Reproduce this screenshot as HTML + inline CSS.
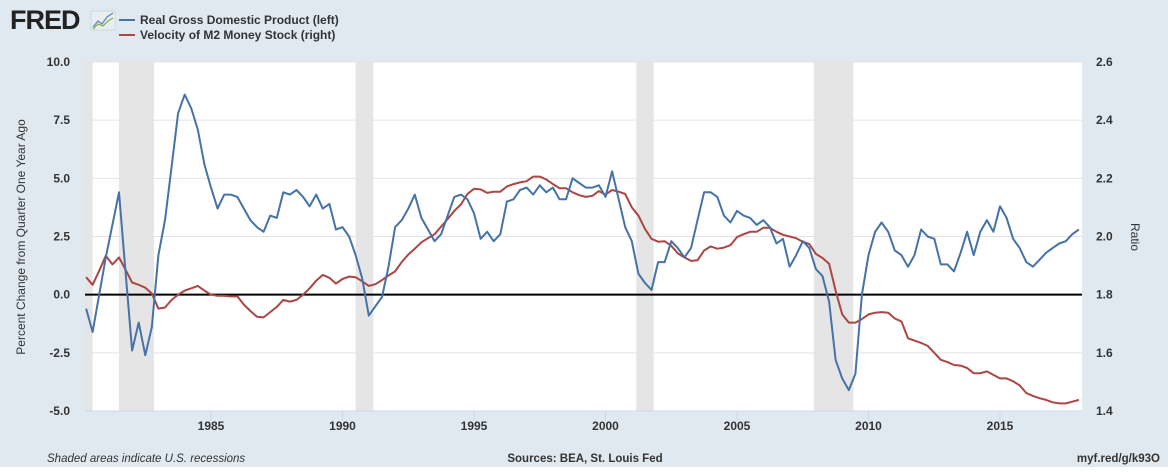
<!DOCTYPE html>
<html><head><meta charset="utf-8">
<style>
html,body{margin:0;padding:0;background:#fff;}
body{width:1168px;height:470px;overflow:hidden;font-family:"Liberation Sans",sans-serif;}
#wrap{position:absolute;left:0;top:0;width:1168px;height:467px;background:#e1e9f0;}
</style></head>
<body>
<div id="wrap">
<svg id="chart" width="1168" height="467" xmlns="http://www.w3.org/2000/svg">
  <g>
    <text x="10" y="29" font-family="Liberation Sans" font-weight="bold" font-size="27" fill="#222" letter-spacing="-1">FRED</text>
    <rect x="91" y="11" width="24" height="19" fill="#e8eef2" stroke="#bcc" stroke-width="0.6"/>
    <polyline points="93,27 98,21 102,24 107,17 113,13" fill="none" stroke="#5b8bbf" stroke-width="1.3"/>
    <polyline points="93,29 98,24 103,26 108,21 113,18" fill="none" stroke="#8ab04a" stroke-width="1.3"/>
  </g>
  <g>
    <line x1="119" y1="20" x2="135" y2="20" stroke="#4572a7" stroke-width="2"/>
    <text x="140" y="24" font-size="12" fill="#333" font-weight="bold">Real Gross Domestic Product (left)</text>
    <line x1="119" y1="35" x2="135" y2="35" stroke="#aa4643" stroke-width="2"/>
    <text x="140" y="39" font-size="12" fill="#333" font-weight="bold">Velocity of M2 Money Stock (right)</text>
  </g>
  <rect x="85" y="62" width="997" height="349" fill="#fff"/>
  <g id="rec"></g>
  <g id="grid"></g>
  <g id="ticks"></g>
  <g id="series"></g>
  <text transform="translate(25,237) rotate(-90)" text-anchor="middle" font-size="12" fill="#333">Percent Change from Quarter One Year Ago</text>
  <text transform="translate(1131,237) rotate(90)" text-anchor="middle" font-size="12" fill="#333">Ratio</text>
  <text x="47" y="462" font-size="11.5" font-style="italic" fill="#333">Shaded areas indicate U.S. recessions</text>
  <text x="585" y="462" text-anchor="middle" font-size="11.5" fill="#333" font-weight="bold">Sources: BEA, St. Louis Fed</text>
  <text x="1160" y="462" text-anchor="end" font-size="11.5" fill="#333" font-weight="bold">myf.red/g/k93O</text>
</svg>
</div>
<script>
const startYear = 1980.25;
const gdpValues = [-0.6,-1.6,0.0,1.6,3.0,4.4,1.0,-2.4,-1.2,-2.6,-1.4,1.7,3.2,5.5,7.8,8.6,8.0,7.1,5.6,4.6,3.7,4.3,4.3,4.2,3.7,3.2,2.9,2.7,3.4,3.3,4.4,4.3,4.5,4.2,3.8,4.3,3.7,3.9,2.8,2.9,2.5,1.7,0.7,-0.9,-0.5,-0.1,1.2,2.9,3.2,3.7,4.3,3.3,2.8,2.3,2.6,3.4,4.2,4.3,4.1,3.5,2.4,2.7,2.3,2.6,4.0,4.1,4.5,4.6,4.3,4.7,4.4,4.6,4.1,4.1,5.0,4.8,4.6,4.6,4.7,4.2,5.3,4.1,2.9,2.3,0.9,0.5,0.2,1.4,1.4,2.3,2.0,1.6,2.0,3.2,4.4,4.4,4.2,3.4,3.1,3.6,3.4,3.3,3.0,3.2,2.9,2.2,2.4,1.2,1.7,2.3,2.0,1.1,0.8,-0.3,-2.8,-3.6,-4.1,-3.4,0.0,1.7,2.7,3.1,2.7,1.9,1.7,1.2,1.7,2.8,2.5,2.4,1.3,1.3,1.0,1.8,2.7,1.7,2.7,3.2,2.7,3.8,3.3,2.4,2.0,1.4,1.2,1.5,1.8,2.0,2.2,2.3,2.6,2.8];
const velocityValues = [1.860,1.834,1.882,1.934,1.904,1.928,1.886,1.842,1.834,1.824,1.804,1.752,1.756,1.782,1.800,1.814,1.822,1.830,1.814,1.800,1.796,1.796,1.794,1.794,1.766,1.744,1.724,1.722,1.740,1.758,1.782,1.776,1.782,1.800,1.822,1.848,1.868,1.858,1.838,1.854,1.862,1.860,1.846,1.830,1.836,1.850,1.866,1.880,1.912,1.938,1.958,1.980,1.994,2.008,2.034,2.060,2.088,2.110,2.146,2.164,2.162,2.150,2.154,2.154,2.172,2.180,2.186,2.190,2.206,2.206,2.196,2.180,2.166,2.166,2.152,2.142,2.136,2.140,2.156,2.144,2.160,2.154,2.146,2.100,2.072,2.026,1.992,1.982,1.984,1.968,1.942,1.928,1.916,1.918,1.952,1.966,1.958,1.962,1.970,1.998,2.008,2.016,2.016,2.030,2.030,2.016,2.006,2.000,1.994,1.982,1.974,1.940,1.926,1.906,1.814,1.732,1.704,1.704,1.716,1.732,1.738,1.740,1.738,1.718,1.708,1.650,1.642,1.634,1.624,1.600,1.576,1.568,1.558,1.556,1.548,1.530,1.530,1.536,1.524,1.512,1.512,1.502,1.488,1.462,1.452,1.444,1.438,1.430,1.426,1.426,1.432,1.438];
const recessionStarts = [1980.0,1981.5,1990.5,2001.17,2007.92];
const recessionEnds = [1980.5,1982.83,1991.17,2001.83,2009.42];
const leftTicks = [-5.0,-2.5,0.0,2.5,5.0,7.5,10.0];
const rightTicks = [1.4,1.6,1.8,2.0,2.2,2.4,2.6];
const yearTicks = [1985,1990,1995,2000,2005,2010,2015];

const NS = "http://www.w3.org/2000/svg";
const PL = 85, PR = 1082, PT = 62, PB = 411;
function xs(yr){ return 211 + (yr - 1985) * 26.3; }
function yl(v){ return PB - (v + 5) / 15 * (PB - PT); }
function yr(v){ return PB - (v - 1.4) / 1.2 * (PB - PT); }
function mk(tag, attrs, parent){ const e = document.createElementNS(NS, tag); for (const k in attrs) e.setAttribute(k, attrs[k]); parent.appendChild(e); return e; }

const rec = document.getElementById('rec');
recessionStarts.forEach((s, i) => {
  const x1 = Math.max(PL, xs(s)), x2 = Math.min(PR, xs(recessionEnds[i]));
  const r = mk('rect', {x: x1, y: PT, width: x2 - x1, height: PB - PT, fill: '#e5e5e5'}, rec);
  
  
});
const grid = document.getElementById('grid');
const ticks = document.getElementById('ticks');
leftTicks.forEach((v, i) => {
  const y = yl(v);
  if (v !== 0) {
    const g = mk('line', {x1: PL, x2: PR, y1: y, y2: y, stroke: '#e2e4e8', 'stroke-width': 1}, grid);
    
    
  }
  const t = mk('text', {x: 70, y: y + 4, 'text-anchor': 'end', 'font-size': 12, 'font-weight': 'bold', fill: '#333'}, ticks);
  t.textContent = v.toFixed(1);
  
  
  const r = mk('text', {x: 1096, y: yr(rightTicks[i]) + 4, 'font-size': 12, 'font-weight': 'bold', fill: '#333'}, ticks);
  r.textContent = rightTicks[i].toFixed(1);
  
  
});
const ax = mk('line', {x1: PL, x2: PR, y1: PB, y2: PB, stroke: '#ccd6eb', 'stroke-width': 1}, ticks);


yearTicks.forEach(yv => {
  const x = xs(yv);
  const tl = mk('line', {x1: x, x2: x, y1: PB, y2: PB + 10, stroke: '#ccd6eb', 'stroke-width': 1}, ticks);
  
  
  const t = mk('text', {x: x, y: PB + 19, 'text-anchor': 'middle', 'font-size': 12, 'font-weight': 'bold', fill: '#333'}, ticks);
  t.textContent = yv;
  
  
});
const series = document.getElementById('series');
const zl = mk('line', {x1: PL, x2: PR, y1: yl(0), y2: yl(0), stroke: '#000', 'stroke-width': 2}, series);


function pts(vals, fy){ return vals.map((v, i) => Math.min(PR, xs(startYear + i / 4)).toFixed(1) + ',' + fy(v).toFixed(1)).join(' '); }
const vl = mk('polyline', {points: pts(velocityValues, yr), fill: 'none', stroke: '#aa4643', 'stroke-width': 2, 'stroke-linejoin': 'round'}, series);


const gl = mk('polyline', {points: pts(gdpValues, yl), fill: 'none', stroke: '#4572a7', 'stroke-width': 2, 'stroke-linejoin': 'round'}, series);


</script>
</body></html>
